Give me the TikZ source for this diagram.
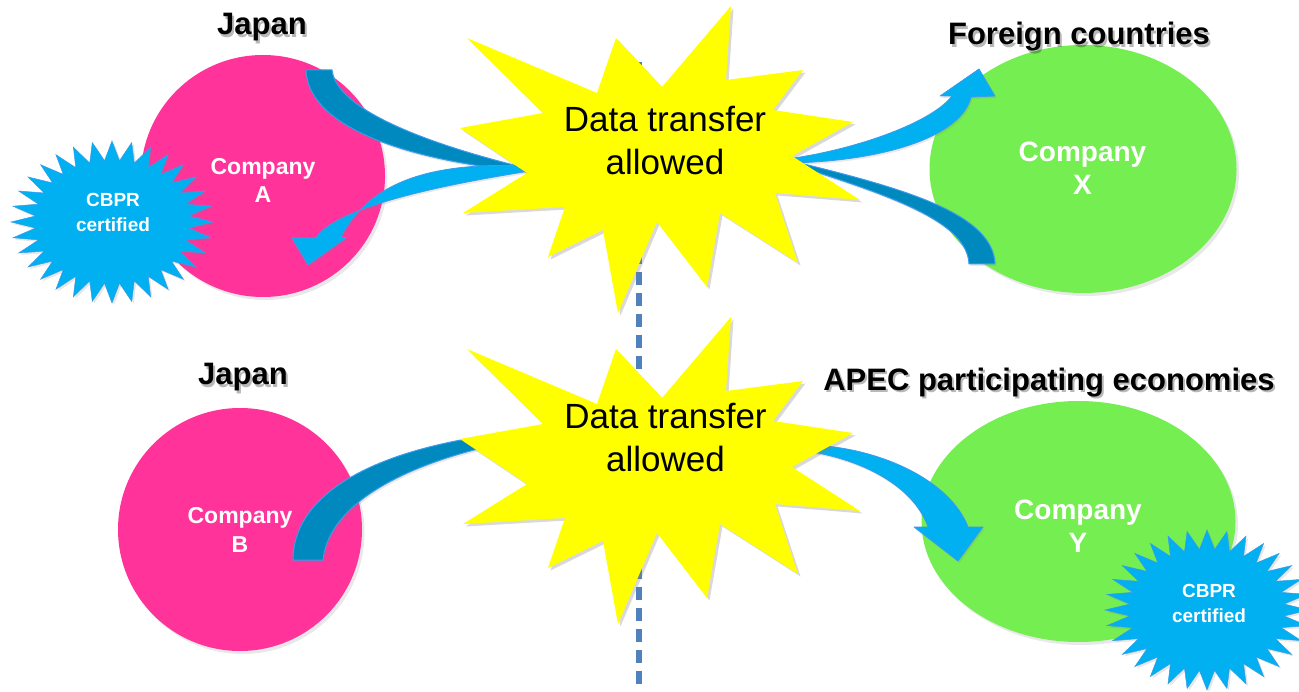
\documentclass[tikz,border=0pt]{standalone}
\usepackage{fontspec}
\setmainfont{Liberation Sans}
\usetikzlibrary{shapes.geometric,shadows}
\definecolor{pinkc}{RGB}{255,51,153}
\definecolor{greenc}{RGB}{116,238,80}
\definecolor{yel}{RGB}{255,255,0}
\definecolor{cyanb}{RGB}{0,176,240}
\definecolor{darkb}{RGB}{0,137,190}
\definecolor{edgeb}{RGB}{60,155,235}
\definecolor{dashc}{RGB}{79,129,189}
\begin{document}
\begin{tikzpicture}[x=1pt,y=-1pt,
  comp/.style={ellipse, inner sep=0pt, draw=none,
    drop shadow={shadow xshift=2.5pt,shadow yshift=-3pt,opacity=.18}},
  burst/.style={fill=yel,
    drop shadow={shadow xshift=2.5pt,shadow yshift=-2.5pt,opacity=.3}},
  seal/.style={fill=cyanb, draw=edgeb, line width=.5pt,
    drop shadow={shadow xshift=2pt,shadow yshift=-2pt,opacity=.2}},
  lightarr/.style={fill=cyanb, draw=edgeb, line width=.8pt, line join=round,
    drop shadow={shadow xshift=1.5pt,shadow yshift=-2pt,opacity=.18}},
  darkarr/.style={fill=darkb, draw=edgeb, line width=1pt, line join=round,
    drop shadow={shadow xshift=1.5pt,shadow yshift=-2pt,opacity=.18}},
  hd/.style={font=\fontsize{31}{37}\selectfont\bfseries, anchor=base, inner sep=0pt},
  hdsh/.style={hd, text=black, opacity=.28},
  csmall/.style={font=\fontsize{23}{28}\selectfont\bfseries, text=white, anchor=base, inner sep=0pt},
  clarge/.style={font=\fontsize{28}{33}\selectfont\bfseries, text=white, anchor=base, inner sep=0pt},
  ctag/.style={font=\fontsize{19}{25}\selectfont\bfseries, text=white, anchor=base, inner sep=0pt},
  burstlbl/.style={font=\fontsize{35}{43}\selectfont, text=black, anchor=base, inner sep=0pt},
  dashln/.style={draw=dashc, line width=5.5pt, dash pattern=on 13pt off 8pt}
]
\useasboundingbox (0,0) rectangle (1299,692);
\clip (0,0) rectangle (1299,692);

% dividing dashed line
\coordinate (dtop) at (639,62);
\coordinate (dbot) at (639,700);
\draw[dashln] (dtop) -- (dbot);

% company circles
\node[comp, fill=pinkc, minimum width=244pt, minimum height=242pt] (cA) at (263,176) {};
\node[comp, fill=greenc, minimum width=307pt, minimum height=248pt] (cX) at (1083,169) {};
\node[comp, fill=pinkc, minimum width=244pt, minimum height=243pt] (cB) at (240,529.5) {};
\node[comp, fill=greenc, minimum width=314pt, minimum height=241pt] (cY) at (1078.5,521.5) {};

% CBPR seals
\coordinate (sealA) at (112,222);
\fill[seal] (213,222) \foreach \i in {1,...,63}{
  -- ({112+101*(1-0.24*mod(\i,2))*cos(\i*5.625)},{222+81*(1-0.24*mod(\i,2))*sin(\i*5.625)}) } -- cycle;
\coordinate (sealY) at (1207,610);
\fill[seal] (1309,610) \foreach \i in {1,...,63}{
  -- ({1207+102*(1-0.24*mod(\i,2))*cos(\i*5.625)},{610+80*(1-0.24*mod(\i,2))*sin(\i*5.625)}) } -- cycle;

% texts on circles and seals
\node[csmall] (tA1) at (263,175) {Company};
\node[csmall] (tA2) at (263,203) {A};
\node[clarge] (tX1) at (1082.5,162) {Company};
\node[clarge] (tX2) at (1082.5,195) {X};
\node[csmall] (tB1) at (240,523) {Company};
\node[csmall] (tB2) at (240,552) {B};
\node[clarge] (tY1) at (1078,519) {Company};
\node[clarge] (tY2) at (1078,552) {Y};
\node[ctag] (sA1) at (113,207) {CBPR};
\node[ctag] (sA2) at (113,232) {certified};
\node[ctag] (sY1) at (1209,597) {CBPR};
\node[ctag] (sY2) at (1209,622) {certified};

% arrows, top row
\coordinate (a1s) at (319,70);
\coordinate (a1e) at (530,171);
\filldraw[darkarr] (306,70) .. controls (308,125) and (400,160) .. (530,172)
  -- (530,169) .. controls (430,145) and (336,110) .. (332,70) -- cycle;
\coordinate (a2s) at (530,168);
\coordinate (a2e) at (308,265);
\filldraw[lightarr] (530,166) .. controls (440,162) and (372,177) .. (341,237)
  -- (346,238) -- (308,265) -- (292,238) -- (316,238)
  .. controls (333,212) and (410,190) .. (530,171) -- cycle;
\coordinate (a3s) at (794,159);
\coordinate (a3e) at (979,69);
\filldraw[lightarr] (794,158) .. controls (860,148) and (932,122) .. (952,96)
  -- (940,96) -- (979,69) -- (995,96) -- (971,97)
  .. controls (962,135) and (890,160) .. (794,163) -- cycle;
\coordinate (a4s) at (982,264);
\coordinate (a4e) at (800,162);
\filldraw[darkarr] (800,163) .. controls (910,190) and (993,215) .. (995,264)
  -- (969,264) .. controls (967,225) and (905,200) .. (800,167) -- cycle;

% arrows, bottom row
\coordinate (a5s) at (308,560);
\coordinate (a5e) at (482,442);
\filldraw[darkarr] (293,560) .. controls (293,500) and (360,455) .. (484,436)
  -- (486,447) .. controls (390,470) and (328,510) .. (323,560) -- cycle;
\coordinate (a6s) at (815,448);
\coordinate (a6e) at (958,561);
\filldraw[lightarr] (812,445) .. controls (880,448) and (950,480) .. (968,527)
  -- (983,527) -- (958,561) -- (914,527) -- (928,527)
  .. controls (915,490) and (870,462) .. (812,452) -- cycle;

% explosion shapes
\coordinate (b1) at (665,150);
\fill[burst] (467,38) -- (597,93) -- (616,38) -- (662,87) -- (731,6) -- (726,80)
  -- (803,70) -- (773,110) -- (853,122) -- (792,156) -- (860,200) -- (775,193)
  -- (798,263) -- (720,213) -- (707,287) -- (657,222) -- (618,313) -- (603,230)
  -- (548,257) -- (565,207) -- (463,213) -- (527,173) -- (460,128) -- (543,113) -- cycle;
\coordinate (b2) at (665,461);
\fill[burst, shift={(0,311)}] (467,38) -- (597,93) -- (616,38) -- (662,87) -- (731,6) -- (726,80)
  -- (803,70) -- (773,110) -- (853,122) -- (792,156) -- (860,200) -- (775,193)
  -- (798,263) -- (720,213) -- (707,287) -- (657,222) -- (618,313) -- (603,230)
  -- (548,257) -- (565,207) -- (463,213) -- (527,173) -- (460,128) -- (543,113) -- cycle;
\node[burstlbl] (d1a) at (665,131.7) {Data transfer};
\node[burstlbl] (d1b) at (665,175) {allowed};
\node[burstlbl] (d2a) at (665.5,428.3) {Data transfer};
\node[burstlbl] (d2b) at (665.5,471.7) {allowed};

% headings
\node[hdsh] at (264,37.5) {Japan};
\node[hd] (hJ1) at (262,35) {Japan};
\node[hdsh] at (1081,47.5) {Foreign countries};
\node[hd] (hF) at (1079,45) {Foreign countries};
\node[hdsh] at (245,387.5) {Japan};
\node[hd] (hJ2) at (243,385) {Japan};
\node[hdsh] at (1051,393) {APEC participating economies};
\node[hd] (hAP) at (1049,390.5) {APEC participating economies};
\end{tikzpicture}
\end{document}
